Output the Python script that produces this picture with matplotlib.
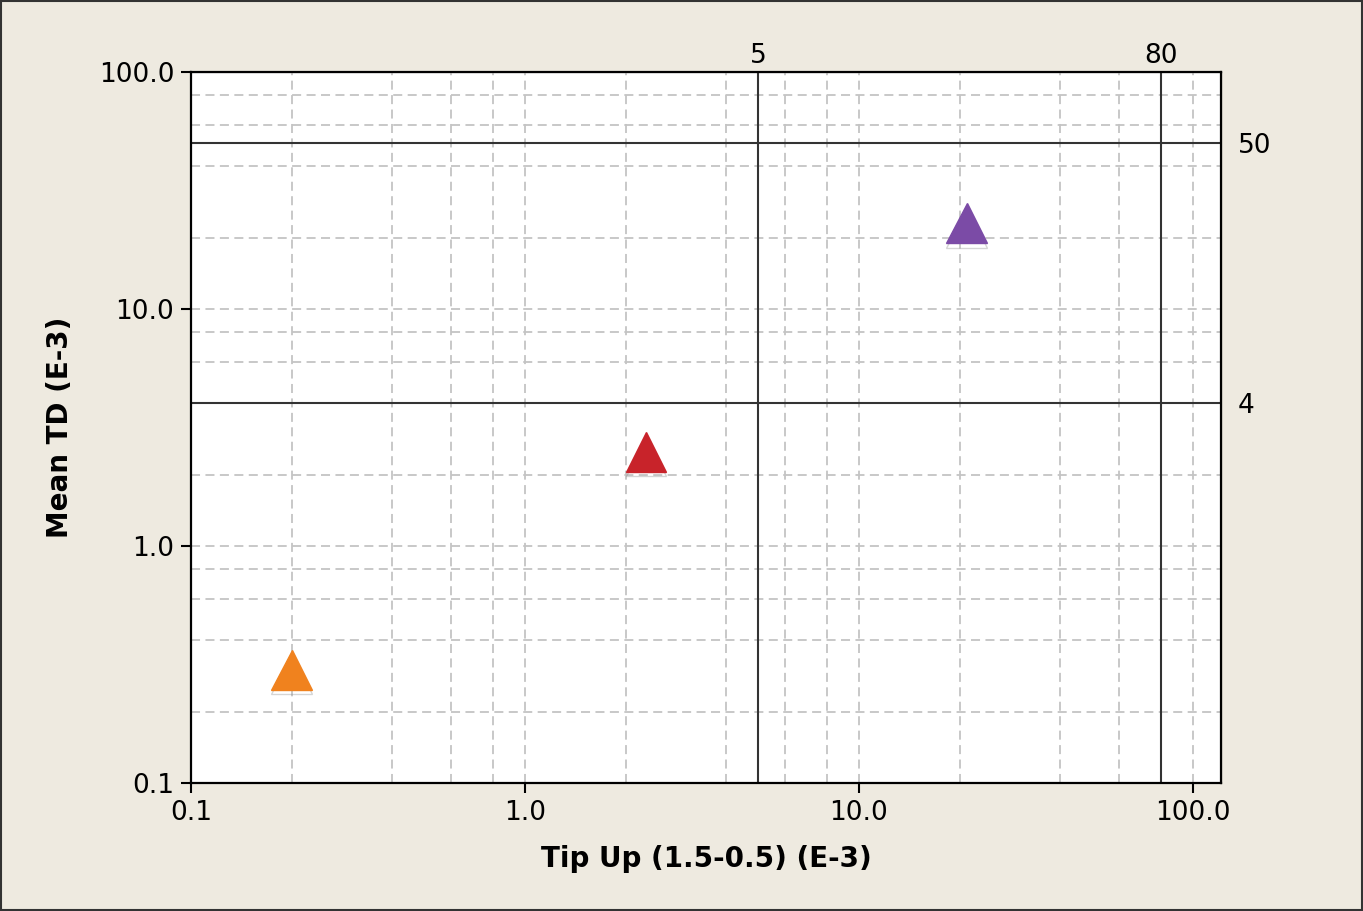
import matplotlib
matplotlib.use("Agg")
import matplotlib.pyplot as plt
import matplotlib.patheffects as pe
from matplotlib.ticker import FixedLocator, NullFormatter
from matplotlib.patches import Rectangle

plt.rcParams['font.family'] = ['DejaVu Sans']

# 数据
tip_up = [0.2, 2.3, 21]
mean_td = [0.3, 2.5, 23]
colors = ['#F0821E', '#C8232A', '#7B4BA6']
x_refs = [5, 80]
y_refs = [50, 4]
x_ticks = [0.1, 1.0, 10.0, 100.0]
x_labels = ['0.1', '1.0', '10.0', '100.0']
y_ticks = [0.1, 1.0, 10.0, 100.0]
y_labels = ['0.1', '1.0', '10.0', '100.0']

fig = plt.figure(figsize=(13.63, 9.11), dpi=100, facecolor='#EEEAE0')
ax = fig.add_axes([191 / 1363, 1 - 783 / 911, (1221 - 191) / 1363, (783 - 72) / 911])
ax.set_facecolor('white')
ax.set_xscale('log')
ax.set_yscale('log')
ax.set_xlim(0.1, 121.3)
ax.set_ylim(0.1, 100)

# 网格
minor = [m * 10.0 ** e for e in range(-1, 3) for m in (2, 4, 6, 8)]
ax.xaxis.set_minor_locator(FixedLocator(minor))
ax.yaxis.set_minor_locator(FixedLocator(minor))
ax.xaxis.set_minor_formatter(NullFormatter())
ax.yaxis.set_minor_formatter(NullFormatter())
ax.grid(True, which='both', color='#C4C4C4', linestyle=(0, (5, 3)), linewidth=1.3)
ax.set_axisbelow(True)

ax.set_xticks(x_ticks, x_labels)
ax.set_yticks(y_ticks, y_labels)
ax.tick_params(which='major', length=7, width=1.5, labelsize=19, colors='black', pad=5)
ax.tick_params(which='minor', length=0)
for s in ax.spines.values():
    s.set_linewidth(1.6)

# 参考线
for v in x_refs:
    ax.axvline(v, color='#333333', linewidth=1.5, zorder=2)
for v in y_refs:
    ax.axhline(v, color='#333333', linewidth=1.5, zorder=2)

top = ax.secondary_xaxis('top')
top.set_xticks(x_refs, [str(v) for v in x_refs])
top.xaxis.set_minor_locator(FixedLocator([]))
top.tick_params(length=0, labelsize=19, pad=2)
right = ax.secondary_yaxis('right')
right.set_yticks(y_refs, [str(v) for v in y_refs])
right.yaxis.set_minor_locator(FixedLocator([]))
right.tick_params(length=0, labelsize=19, pad=12)

# 散点
for x, y, c in zip(tip_up, mean_td, colors):
    ax.plot([x], [y], marker='^', markersize=29, color=c, markeredgecolor=c,
            linestyle='none', zorder=5,
            path_effects=[pe.SimpleLineShadow(offset=(0, -3), shadow_color='#888888', alpha=0.35),
                          pe.Normal()])

ax.set_xlabel('Tip Up (1.5-0.5) (E-3)', fontsize=20, fontweight='bold', labelpad=14)
ax.set_ylabel('Mean TD (E-3)', fontsize=20, fontweight='bold', labelpad=18)

fig.patches.append(Rectangle((0.001, 0.001), 0.998, 0.998, transform=fig.transFigure,
                             fill=False, edgecolor='#333333', linewidth=1.5))

fig.savefig('out.png', dpi=100, facecolor=fig.get_facecolor())
